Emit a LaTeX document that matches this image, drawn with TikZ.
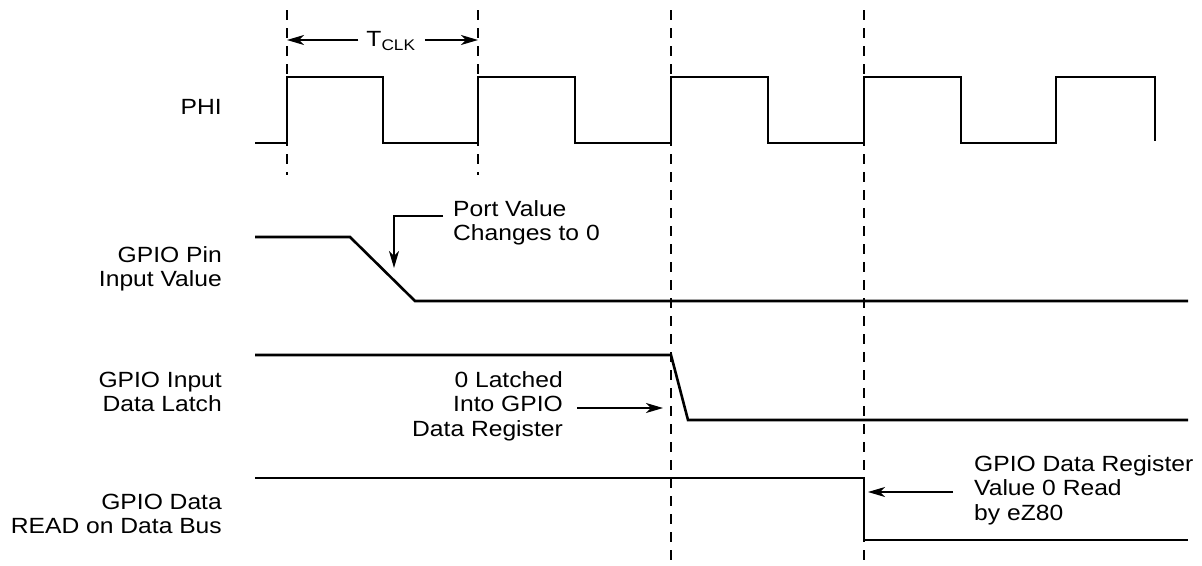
\documentclass[tikz,border=0pt]{standalone}
\usepackage{fontspec}
\setmainfont{Liberation Sans}[FakeStretch=1.12]
\usetikzlibrary{arrows.meta}
\begin{document}
\begin{tikzpicture}[x=1pt,y=-1pt,
  sig/.style={line width=2.6pt,line join=miter},
  guide/.style={line width=1.3pt,dash pattern=on 10pt off 8pt},
  ann/.style={line width=1.3pt,-{Stealth[length=17pt,width=10pt,inset=5pt]}},
  lbl/.style={font=\fontsize{22}{24.5}\selectfont,inner sep=0pt},
  rlbl/.style={lbl,align=right,anchor=east},
  llbl/.style={lbl,align=left,anchor=west}]
\useasboundingbox (0,0) rectangle (1202,565);
% guide lines
\draw[guide] (287,10) -- (287,175);
\draw[guide] (478,10) -- (478,175);
\draw[guide] (671,10) -- (671,565);
\draw[guide] (864,10) -- (864,565);
% T_CLK
\node[lbl] (tclk) at (391,41) {T\textsubscript{CLK}};
\coordinate (ta) at (287,40);
\coordinate (tb) at (478,40);
\draw[ann] (tclk.west) ++(-8,-1) -- (ta);
\draw[ann] (tclk.east) ++(9,-1) -- (tb);
% PHI
\node[rlbl] (phi) at (222,107) {PHI};
\draw[sig] (255,143) -- (287,143) -- (287,77) -- (383,77) -- (383,143) -- (478,143) -- (478,77)
  -- (575,77) -- (575,143) -- (671,143) -- (671,77) -- (768,77) -- (768,143) -- (864,143)
  -- (864,77) -- (961,77) -- (961,143) -- (1056,143) -- (1056,77) -- (1155,77) -- (1155,141);
% GPIO Pin Input Value
\node[rlbl] (pin) at (222,269) {GPIO Pin\\Input Value};
\draw[sig] (255,237) -- (350,237) -- (415,301) -- (1188,301);
\node[llbl] (pv) at (453,223) {Port Value\\Changes to 0};
\coordinate (pvt) at (394,268);
\draw[ann] (443,216) -- (394,216) -- (pvt);
% GPIO Input Data Latch
\node[rlbl] (latch) at (222,392) {GPIO Input\\Data Latch};
\draw[sig] (255,355) -- (671,355) -- (688,420) -- (1188,420);
\node[rlbl] (lt) at (563,406) {0 Latched\\Into GPIO\\Data Register};
\coordinate (ltt) at (663,408);
\draw[ann] (577,408) -- (ltt);
% GPIO Data READ
\node[rlbl] (rd) at (222,514) {GPIO Data\\READ on Data Bus};
\draw[sig] (255,478) -- (864,478) -- (864,540) -- (1188,540);
\node[llbl] (gr) at (974,490) {GPIO Data Register\\Value 0 Read\\by eZ80};
\coordinate (grt) at (868,492);
\draw[ann] (953,492) -- (grt);
\end{tikzpicture}
\end{document}
